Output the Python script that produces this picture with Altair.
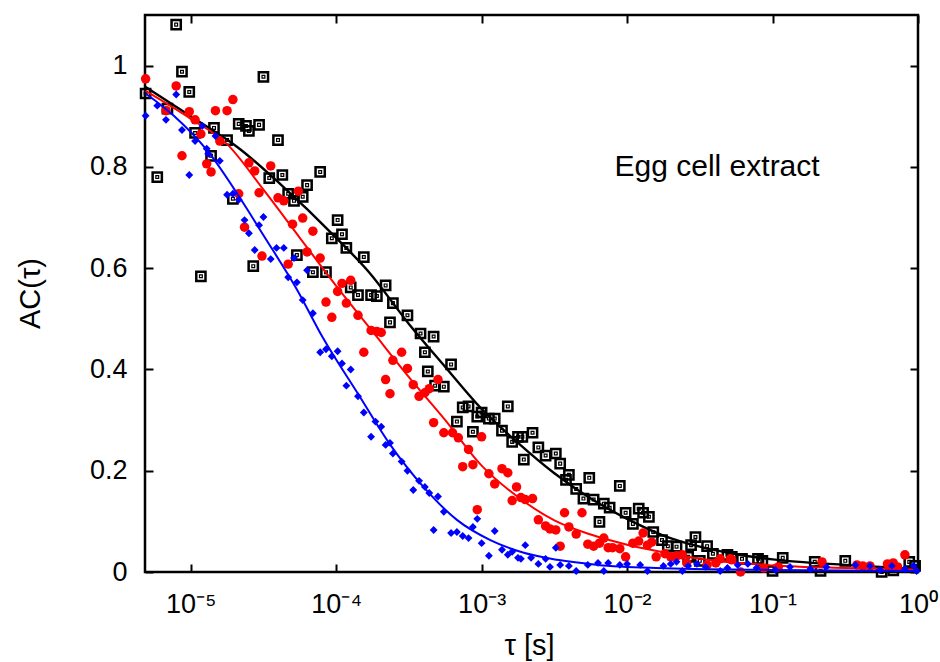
import altair as alt
import pandas as pd

# ---------------- data ----------------
# log10 of tau [s] and AC(tau)
black_log_tau = [-5.31, -5.23, -5.16, -5.10, -5.06, -5.01, -4.97, -4.93, -4.86, -4.84,
                 -4.75, -4.71, -4.67, -4.62, -4.60, -4.57, -4.53, -4.50, -4.46, -4.40,
                 -4.37, -4.33, -4.29, -4.27, -4.23, -4.20, -4.16, -4.11, -4.07,
                 -4.03, -3.99, -3.96, -3.93, -3.90, -3.85, -3.81, -3.76, -3.72, -3.66,
                 -3.63, -3.61, -3.51, -3.42, -3.39, -3.37, -3.33, -3.32, -3.26, -3.21,
                 -3.17, -3.13, -3.09, -3.06, -3.03, -3.00, -2.95, -2.91, -2.86, -2.82,
                 -2.79, -2.75, -2.72, -2.71, -2.65, -2.61, -2.56, -2.49, -2.46, -2.42,
                 -2.40, -2.35, -2.30, -2.26, -2.23, -2.19, -2.16, -2.12, -2.05, -2.01,
                 -1.96, -1.92, -1.89, -1.85, -1.82, -1.76, -1.72, -1.66, -1.58, -1.56,
                 -1.53, -1.50, -1.45, -1.41, -1.31, -1.28, -1.21, -1.10, -1.07, -1.00,
                 -0.93, -0.71, -0.67, -0.50, -0.25, -0.17, -0.06, -0.02]
black_ac = [0.945, 0.780, 0.915, 1.081, 0.988, 0.948, 0.867, 0.584, 0.822, 0.877,
            0.853, 0.737, 0.885, 0.881, 0.871, 0.604, 0.883, 0.978, 0.778, 0.853,
            0.784, 0.747, 0.733, 0.626, 0.741, 0.764, 0.592, 0.790, 0.592,
            0.659, 0.695, 0.667, 0.640, 0.562, 0.547, 0.622, 0.547, 0.545, 0.566,
            0.493, 0.531, 0.507, 0.471, 0.434, 0.396, 0.465, 0.368, 0.366, 0.410,
            0.297, 0.325, 0.327, 0.277, 0.307, 0.315, 0.303, 0.303, 0.279, 0.327,
            0.257, 0.267, 0.267, 0.222, 0.275, 0.246, 0.230, 0.234, 0.214, 0.182,
            0.192, 0.164, 0.145, 0.186, 0.143, 0.099, 0.135, 0.127, 0.170, 0.117,
            0.095, 0.125, 0.117, 0.109, 0.079, 0.063, 0.051, 0.050, 0.030, 0.053,
            0.069, 0.022, 0.051, 0.036, 0.034, 0.030, 0.026, 0.026, 0.022, 0.002,
            0.028, 0.020, 0.002, 0.022, 0.000, 0.003, 0.020, 0.012]

red_log_tau = [-5.31, -5.17, -5.10, -5.06, -5.01, -4.97, -4.93, -4.89, -4.86, -4.83,
               -4.80, -4.75, -4.71, -4.67, -4.63, -4.60, -4.56, -4.53, -4.51, -4.45,
               -4.40, -4.36, -4.33, -4.30, -4.26, -4.23, -4.20, -4.16, -4.11, -4.07,
               -4.03, -3.99, -3.96, -3.93, -3.90, -3.85, -3.81, -3.76, -3.72, -3.69,
               -3.66, -3.63, -3.61, -3.55, -3.51, -3.47, -3.43, -3.39, -3.36, -3.33,
               -3.30, -3.26, -3.20, -3.16, -3.13, -3.09, -3.06, -3.03, -3.00, -2.95,
               -2.91, -2.86, -2.82, -2.79, -2.76, -2.73, -2.70, -2.65, -2.61, -2.56,
               -2.53, -2.49, -2.46, -2.43, -2.40, -2.35, -2.31, -2.27, -2.23, -2.19,
               -2.16, -2.13, -2.10, -2.05, -2.01, -1.96, -1.92, -1.89, -1.86, -1.83,
               -1.80, -1.74, -1.70, -1.66, -1.62, -1.59, -1.45, -1.39, -1.36, -1.29,
               -1.28, -1.22, -1.06, -0.96, -0.66, -0.42, -0.38, -0.33, -0.21, -0.17,
               -0.14, -0.09]
red_ac = [0.974, 0.911, 0.960, 0.822, 0.909, 0.893, 0.865, 0.806, 0.790, 0.911,
          0.851, 0.911, 0.933, 0.747, 0.681, 0.808, 0.792, 0.749, 0.624, 0.802,
          0.739, 0.733, 0.608, 0.687, 0.752, 0.699, 0.632, 0.673, 0.620, 0.533,
          0.503, 0.554, 0.570, 0.531, 0.576, 0.507, 0.434, 0.477, 0.475, 0.473,
          0.380, 0.352, 0.418, 0.434, 0.402, 0.370, 0.347, 0.354, 0.362, 0.295,
          0.380, 0.275, 0.275, 0.265, 0.208, 0.242, 0.212, 0.123, 0.267, 0.194,
          0.174, 0.204, 0.196, 0.141, 0.168, 0.147, 0.143, 0.145, 0.103, 0.091,
          0.085, 0.083, 0.051, 0.117, 0.089, 0.075, 0.117, 0.055, 0.051, 0.057,
          0.067, 0.048, 0.048, 0.046, 0.030, 0.057, 0.061, 0.077, 0.053, 0.059,
          0.030, 0.036, 0.030, 0.032, 0.034, 0.018, 0.014, 0.018, 0.026, 0.026,
          0.024, 0.000, 0.008, 0.010, 0.020, 0.014, 0.012, 0.012, 0.016, 0.018,
          0.010, 0.034]

blue_log_tau = [-5.31, -5.23, -5.17, -5.10, -5.06, -5.01, -4.97, -4.92, -4.89, -4.88,
                -4.83, -4.80, -4.75, -4.71, -4.67, -4.63, -4.60, -4.56, -4.53, -4.50,
                -4.45, -4.41, -4.36, -4.33, -4.29, -4.27, -4.23, -4.20, -4.16, -4.11,
                -4.07, -4.03, -3.99, -3.96, -3.93, -3.90, -3.85, -3.81, -3.76, -3.73,
                -3.69, -3.66, -3.63, -3.61, -3.55, -3.51, -3.47, -3.43, -3.39, -3.36,
                -3.33, -3.30, -3.26, -3.21, -3.17, -3.13, -3.09, -3.06, -3.03, -3.00,
                -2.95, -2.91, -2.86, -2.82, -2.79, -2.75, -2.73, -2.70, -2.66, -2.61,
                -2.56, -2.53, -2.49, -2.46, -2.40, -2.35, -2.27, -2.20, -2.16, -2.13,
                -2.05, -2.00, -1.91, -1.86, -1.75, -1.70, -1.66, -1.62, -1.58, -1.52,
                -1.46, -1.36, -1.31, -1.24, -1.17, -1.11, -0.98, -0.88, -0.74, -0.63,
                -0.43, -0.33, -0.26, -0.18, -0.09, -0.03, -0.01]
blue_ac = [0.901, 0.921, 0.893, 0.943, 0.873, 0.784, 0.851, 0.881, 0.836, 0.826,
           0.861, 0.812, 0.745, 0.747, 0.735, 0.695, 0.669, 0.636, 0.685, 0.701,
           0.618, 0.640, 0.640, 0.582, 0.620, 0.572, 0.537, 0.596, 0.511, 0.434,
           0.440, 0.426, 0.436, 0.412, 0.368, 0.400, 0.347, 0.315, 0.267, 0.297,
           0.287, 0.251, 0.255, 0.234, 0.218, 0.200, 0.162, 0.180, 0.168, 0.156,
           0.083, 0.149, 0.119, 0.077, 0.079, 0.071, 0.067, 0.089, 0.105, 0.057,
           0.032, 0.081, 0.044, 0.034, 0.040, 0.028, 0.026, 0.053, 0.028, 0.016,
           0.026, 0.010, 0.048, 0.014, 0.012, 0.002, 0.014, 0.018, 0.002, 0.018,
           0.014, 0.016, 0.014, 0.002, 0.012, 0.016, 0.020, 0.002, 0.012, 0.016,
           0.010, 0.002, 0.008, 0.014, 0.016, 0.008, 0.004, 0.010, 0.006, 0.010,
           0.014, 0.012, 0.004, 0.012, 0.006, 0.012, 0.002]

# fitted curves
black_fit_log_tau = [-5.31, -5.0, -4.66, -4.38, -4.0, -3.78, -3.5, -3.25, -3.0, -2.75,
                     -2.5, -2.25, -2.0, -1.75, -1.5, -1.25, -1.0, -0.5, 0.0]
black_fit_ac = [0.958, 0.900, 0.835, 0.765, 0.660, 0.594, 0.490, 0.405, 0.322, 0.255,
                0.195, 0.145, 0.105, 0.072, 0.050, 0.035, 0.025, 0.014, 0.006]

red_fit_log_tau = [-5.31, -5.0, -4.75, -4.5, -4.25, -4.0, -3.75, -3.5, -3.25, -3.0,
                   -2.75, -2.5, -2.25, -2.0, -1.75, -1.5, -1.0, -0.5, 0.0]
red_fit_ac = [0.950, 0.895, 0.845, 0.755, 0.660, 0.565, 0.475, 0.385, 0.300, 0.210,
              0.148, 0.102, 0.074, 0.054, 0.039, 0.026, 0.013, 0.008, 0.005]

blue_fit_log_tau = [-5.31, -5.12, -4.88, -4.66, -4.5, -4.27, -4.09, -3.85, -3.63, -3.40,
                    -3.17, -2.94, -2.71, -2.48, -2.2, -1.8, -1.0, 0.0]
blue_fit_ac = [0.945, 0.902, 0.830, 0.738, 0.665, 0.558, 0.462, 0.352, 0.252, 0.168,
               0.103, 0.063, 0.038, 0.024, 0.014, 0.008, 0.004, 0.002]

x_ticks = [1e-5, 1e-4, 1e-3, 1e-2, 1e-1, 1.0]
x_tick_labels = ["10⁻⁵", "10⁻⁴", "10⁻³", "10⁻²", "10⁻¹", "10⁰"]
y_ticks = [0, 0.2, 0.4, 0.6, 0.8, 1.0]
x_domain = [4.85e-6, 1.0]
y_domain = [0, 1.1]

annotation = ["Egg cell extract"]
annotation_tau = [8.2e-3]
annotation_ac = [0.80]

# ---------------- build ----------------
def frame(log_tau, ac):
    return pd.DataFrame({"tau": [10 ** v for v in log_tau], "ac": ac})

FONT = "Liberation Sans"
LABEL_SIZE = 27
TITLE_SIZE = 29
x_scale = alt.Scale(type="log", domain=x_domain, nice=False)
y_scale = alt.Scale(domain=y_domain, nice=False, zero=False)

label_expr = "[" + ",".join("'%s'" % t for t in x_tick_labels) + "][round(log(datum.value)/LN10) + 5]"

x_main = alt.Axis(orient="bottom", values=x_ticks, labelExpr=label_expr, ticks=False, tickSize=0,
                  domain=False, grid=False, labelFont=FONT, labelFontSize=LABEL_SIZE, labelPadding=19,
                  labelColor="black", labelFlush=False, labelOverlap=False, labelBound=False,
                  title="τ [s]", titleFont=FONT, titleFontSize=TITLE_SIZE, titleFontWeight="normal",
                  titleColor="black", titleX=384, titleY=73, titleBaseline="middle", titleAlign="center")
y_main = alt.Axis(orient="left", values=y_ticks, format="~g", ticks=False, tickSize=0,
                  domain=False, grid=False, labelFont=FONT, labelFontSize=LABEL_SIZE, labelPadding=18,
                  labelColor="black", labelFlush=False, labelOverlap=False, labelBound=False,
                  title="AC(τ)", titleFont=FONT, titleFontSize=TITLE_SIZE, titleFontWeight="normal",
                  titleColor="black", titleX=-115, titleY=278, titleAngle=270,
                  titleBaseline="middle", titleAlign="center")

def tick_axis(orient, values):
    return alt.Axis(orient=orient, values=values, labels=False, domain=False, grid=False,
                    ticks=True, tickSize=8, tickWidth=2, tickColor="black", offset=-8, title=None)

black_df = frame(black_log_tau, black_ac)
red_df = frame(red_log_tau, red_ac)
blue_df = frame(blue_log_tau, blue_ac)

black_pts = alt.Chart(black_df).mark_point(shape="square", filled=False, stroke="black",
                                            strokeWidth=2.5, size=85, opacity=1).encode(
    x=alt.X("tau:Q", scale=x_scale, axis=x_main),
    y=alt.Y("ac:Q", scale=y_scale, axis=y_main))
black_dots = alt.Chart(black_df).mark_point(shape="square", filled=False, stroke="black",
                                             strokeWidth=1.2, size=8, opacity=1).encode(
    x=alt.X("tau:Q", scale=x_scale, axis=None),
    y=alt.Y("ac:Q", scale=y_scale, axis=None))
black_line = alt.Chart(frame(black_fit_log_tau, black_fit_ac)).mark_line(
    color="black", strokeWidth=2.4, interpolate="monotone").encode(
    x=alt.X("tau:Q", scale=x_scale, axis=None),
    y=alt.Y("ac:Q", scale=y_scale, axis=None))

red_pts = alt.Chart(red_df).mark_point(shape="circle", filled=True, color="#ff0000",
                                        size=90, opacity=1).encode(
    x=alt.X("tau:Q", scale=x_scale, axis=tick_axis("bottom", x_ticks)),
    y=alt.Y("ac:Q", scale=y_scale, axis=tick_axis("left", y_ticks)))
red_line = alt.Chart(frame(red_fit_log_tau, red_fit_ac)).mark_line(
    color="#ff0000", strokeWidth=2, interpolate="monotone").encode(
    x=alt.X("tau:Q", scale=x_scale, axis=None),
    y=alt.Y("ac:Q", scale=y_scale, axis=None))

blue_pts = alt.Chart(blue_df).mark_point(shape="diamond", filled=True, color="#0000ff",
                                          size=62, opacity=1).encode(
    x=alt.X("tau:Q", scale=x_scale, axis=tick_axis("top", x_ticks)),
    y=alt.Y("ac:Q", scale=y_scale, axis=tick_axis("right", y_ticks)))
blue_line = alt.Chart(frame(blue_fit_log_tau, blue_fit_ac)).mark_line(
    color="#0000ff", strokeWidth=2, interpolate="monotone").encode(
    x=alt.X("tau:Q", scale=x_scale, axis=None),
    y=alt.Y("ac:Q", scale=y_scale, axis=None))

label = alt.Chart(pd.DataFrame({"tau": annotation_tau, "ac": annotation_ac, "t": annotation})).mark_text(
    align="left", baseline="middle", font=FONT, fontSize=30, color="black").encode(
    x=alt.X("tau:Q", scale=x_scale, axis=None),
    y=alt.Y("ac:Q", scale=y_scale, axis=None),
    text="t:N")

chart = alt.layer(
    black_pts, black_dots, black_line, red_pts, red_line, blue_pts, blue_line, label
).resolve_axis(x="independent", y="independent").properties(
    width=773, height=557,
    autosize=alt.AutoSizeParams(type="none"),
    padding={"left": 145, "top": 15, "right": 22, "bottom": 90},
    background="white",
).configure_view(stroke="black", strokeWidth=2.5)

chart.save("out.html", embed_options={"renderer": "svg", "actions": False})
